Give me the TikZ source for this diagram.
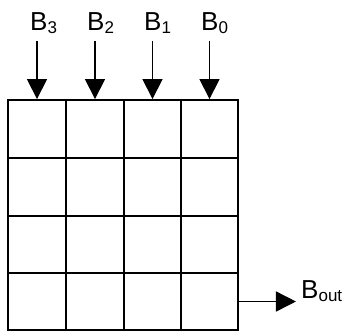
\documentclass[tikz,border=0pt]{standalone}
\usepackage{fontspec}
\setmainfont{Liberation Sans}
\usetikzlibrary{arrows.meta}
% letter with a lowered, smaller subscript
\newcommand{\lblsub}[2]{#1\raisebox{-3.5pt}{\fontsize{17}{18}\selectfont #2}}
\begin{document}
\begin{tikzpicture}[x=1pt,y=-1pt,
  cell/.style={draw,line width=1.9pt,inner sep=0pt},
  lbl/.style={anchor=base west,inner sep=0pt,font=\fontsize{26}{30}\selectfont},
  feed/.style={line width=1.6pt,-{Triangle[width=20pt,length=20pt]}}]
\useasboundingbox (0,0) rectangle (344,330);
% 4x4 array of cells; borders on whole units
\def\xs{{8,66,124,181,238}}
\def\ys{{100,158,216,273,330}}
\foreach \r in {1,...,4}
  \foreach \c in {1,...,4}{
    \pgfmathsetmacro\xa{\xs[\c-1]}\pgfmathsetmacro\xb{\xs[\c]}
    \pgfmathsetmacro\ya{\ys[\r-1]}\pgfmathsetmacro\yb{\ys[\r]}
    \node[cell,minimum width={(\xb-\xa)*1pt},minimum height={(\yb-\ya)*1pt}]
      (c-\r-\c) at ({(\xa+\xb)/2},{(\ya+\yb)/2}) {};
  }
% column inputs
\node[lbl] (b3) at (30,30) {\lblsub{B}{3}};
\node[lbl] (b2) at (87,30) {\lblsub{B}{2}};
\node[lbl] (b1) at (144,30) {\lblsub{B}{1}};
\node[lbl] (b0) at (201,30) {\lblsub{B}{0}};
\foreach \c/\k in {1/3,2/2,3/1,4/0}{
  \coordinate (in\k) at ([yshift=58pt]c-1-\c.north);
  \draw[feed] (in\k) -- (c-1-\c.north);
}
% output
\coordinate (out) at ([xshift=57pt]c-4-4.east);
\draw[feed] (c-4-4.east) -- (out);
\node[lbl] (bout) at (301,298) {\lblsub{B}{out}};
\end{tikzpicture}
\end{document}
